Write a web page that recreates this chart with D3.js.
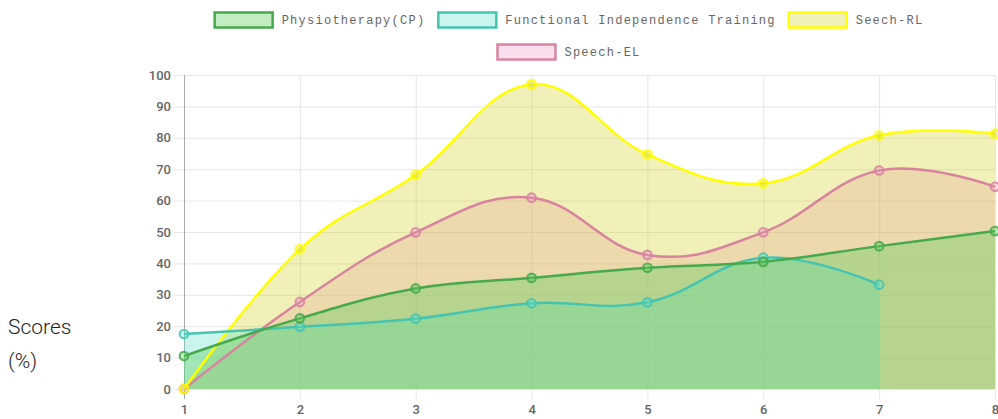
<!DOCTYPE html>
<html>
<head>
<meta charset="utf-8">
<script src="https://cdn.jsdelivr.net/npm/d3@7"></script>
<style>
  body { margin: 0; background: #fff; }
  svg { display: block; }
</style>
</head>
<body>
<div id="chart"></div>
<script>
// du lieu doc tu hinh
const sessions = [1, 2, 3, 4, 5, 6, 7, 8];
const physio = [10.5, 22.5, 32, 35.4, 38.6, 40.5, 45.5, 50.3];
const fit = [17.5, 19.8, 22.4, 27.3, 27.6, 41.8, 33.2, null];
const speechRL = [0, 44.5, 68.2, 97, 74.7, 65.5, 80.8, 81.3];
const speechEL = [0, 27.7, 49.9, 60.9, 42.7, 49.9, 69.6, 64.4];
const seriesNames = ["Physiotherapy(CP)", "Functional Independence Training", "Seech-RL", "Speech-EL"];
const yTicks = [0, 10, 20, 30, 40, 50, 60, 70, 80, 90, 100];

const width = 998, height = 419;
const plot = { left: 184, right: 995, top: 75, bottom: 389 };

const series = [
  { name: seriesNames[0], values: physio, stroke: "#47a94d", fill: "rgba(95,205,95,0.38)" },
  { name: seriesNames[1], values: fit, stroke: "#45c4b0", fill: "rgba(100,225,205,0.35)" },
  { name: seriesNames[2], values: speechRL, stroke: "#ffff00", fill: "rgba(205,205,20,0.3)" },
  { name: seriesNames[3], values: speechEL, stroke: "#d8849f", fill: "rgba(235,150,200,0.3)" }
];

const svg = d3.select("#chart").append("svg")
  .attr("width", width)
  .attr("height", height);

const x = d3.scaleLinear().domain([1, 8]).range([plot.left, plot.right]);
const y = d3.scaleLinear().domain([0, 100]).range([plot.bottom, plot.top]);

// luoi ngang + nhan truc y
const yAxis = svg.append("g")
  .attr("transform", `translate(${plot.left - 10},0)`)
  .call(d3.axisLeft(y).tickValues(yTicks).tickSizeInner(-(plot.right - plot.left + 10)).tickSizeOuter(0).tickPadding(3));
yAxis.select(".domain").remove();
yAxis.selectAll(".tick line").attr("stroke", "#e6e6e6");
yAxis.selectAll(".tick text")
  .attr("fill", "#666")
  .style("font-family", "Roboto, sans-serif")
  .style("font-size", "13px")
  .style("font-weight", "500");

// luoi doc + nhan truc x
const xAxis = svg.append("g")
  .attr("transform", `translate(0,${plot.bottom + 10})`)
  .call(d3.axisBottom(x).tickValues(sessions).tickFormat(d3.format("d"))
    .tickSizeInner(-(plot.bottom - plot.top + 10)).tickSizeOuter(0).tickPadding(6));
xAxis.select(".domain").remove();
xAxis.selectAll(".tick line").attr("stroke", (d, i) => i === 0 ? "#aaa" : "#e6e6e6");
xAxis.selectAll(".tick text")
  .attr("fill", "#666")
  .style("font-family", "Roboto, sans-serif")
  .style("font-size", "13px")
  .style("font-weight", "500");

const curve = d3.curveCardinal.tension(-0.2);

const area = d3.area()
  .defined(d => d != null)
  .curve(curve)
  .x((d, i) => x(sessions[i]))
  .y0(y(0))
  .y1(d => y(d));

const line = d3.line()
  .defined(d => d != null)
  .curve(curve)
  .x((d, i) => x(sessions[i]))
  .y(d => y(d));

// ve theo thu tu nguoc: series dau nam tren cung
const drawOrder = series.slice().reverse();

svg.append("g").selectAll("path")
  .data(drawOrder)
  .enter()
  .append("path")
  .attr("d", d => area(d.values))
  .attr("fill", d => d.fill);

drawOrder.forEach(function (s) {
  svg.append("path")
    .attr("d", line(s.values))
    .attr("fill", "none")
    .attr("stroke", s.stroke)
    .attr("stroke-width", 2.5);

  svg.append("g").selectAll("circle")
    .data(s.values.map((v, i) => ({ v: v, i: i })).filter(p => p.v != null))
    .enter()
    .append("circle")
    .attr("cx", p => x(sessions[p.i]))
    .attr("cy", p => y(p.v))
    .attr("r", 4.3)
    .attr("fill", s.fill)
    .attr("stroke", s.stroke)
    .attr("stroke-opacity", 0.85)
    .attr("stroke-width", 2.2);
});

// chu thich
const legendFont = "12px 'Liberation Mono', monospace";
const charW = 8.45, boxW = 58, boxH = 15, gapText = 9, gapItem = 13;
const maxRow = 858, centerX = 569;
const rows = [[]];
let rowW = 0;
series.forEach(function (s) {
  const w = boxW + gapText + s.name.length * charW;
  const add = rows[rows.length - 1].length ? gapItem + w : w;
  if (rowW + add > maxRow) {
    rows.push([]);
    rowW = 0;
  }
  rows[rows.length - 1].push({ s: s, w: w });
  rowW += rows[rows.length - 1].length > 1 ? gapItem + w : w;
});

const legend = svg.append("g");
rows.forEach(function (row, r) {
  const total = d3.sum(row, d => d.w) + gapItem * (row.length - 1);
  let cx = centerX - total / 2;
  const cy = 20 + r * 32;
  row.forEach(function (item) {
    legend.append("rect")
      .attr("x", cx)
      .attr("y", cy - boxH / 2)
      .attr("width", boxW)
      .attr("height", boxH)
      .attr("fill", item.s.fill)
      .attr("stroke", item.s.stroke)
      .attr("stroke-width", 2.5);
    legend.append("text")
      .attr("x", cx + boxW + gapText)
      .attr("y", cy)
      .attr("dy", "0.35em")
      .attr("fill", "#666")
      .style("font", legendFont)
      .style("letter-spacing", "1.25px")
      .text(item.s.name);
    cx += item.w + gapItem;
  });
});

// nhan truc y ben trai
const yTitle = svg.append("text")
  .attr("fill", "#222")
  .style("font-family", "Roboto, sans-serif")
  .style("font-size", "21px")
  .style("font-weight", "300");
yTitle.append("tspan").attr("x", 8).attr("y", 334).text("Scores");
yTitle.append("tspan").attr("x", 8).attr("y", 368).text("(%)");
</script>
</body>
</html>
